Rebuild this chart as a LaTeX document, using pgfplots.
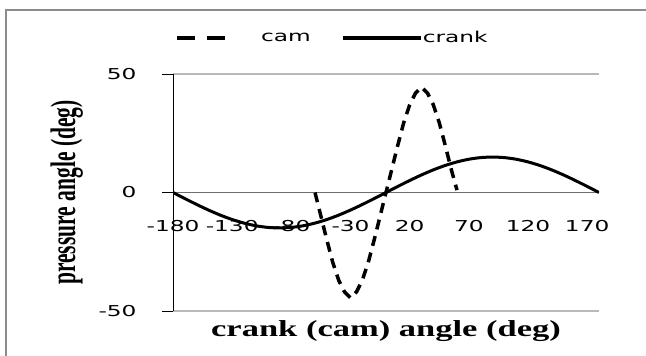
\documentclass[border=0pt]{standalone}
\usepackage{pgfplots}
\pgfplotsset{compat=1.18}
\usepackage{fontspec}
\setmainfont{DejaVu Sans}
\newfontfamily\tickfont[FakeStretch=1.55]{DejaVu Sans}
\newfontfamily\labfont[FakeStretch=1.5]{Liberation Serif}
\newfontfamily\ylabfont{Liberation Serif}
\definecolor{framegray}{RGB}{140,140,140}
\definecolor{gridgray}{RGB}{185,185,185}
\definecolor{zerogray}{RGB}{110,110,110}

\pgfplotsset{
    camleg/.style={legend image code/.code={%
        \fill[black, draw=none] (0bp,-1.8bp) rectangle (18bp,1.8bp);
        \fill[black, draw=none] (30bp,-1.8bp) rectangle (48bp,1.8bp);
        \path[draw=none] (48bp,0bp) -- (82bp,0bp);}},
    crankleg/.style={legend image code/.code={%
        \fill[black, draw=none] (0bp,-1.6bp) rectangle (78bp,1.6bp);}},
}

\begin{document}
\begin{tikzpicture}
\useasboundingbox (0,0) rectangle (646bp,356bp);
% chart frame (left and top edges only visible)
\draw[framegray, line width=2bp] (6bp,0bp) -- (6bp,346bp) -- (646bp,346bp);

\begin{axis}[
    at={(173bp,45bp)}, anchor=south west,
    scale only axis,
    width=426bp, height=237bp,
    axis x line=middle,
    axis y line=left,
    axis line style={-},
    x axis line style={zerogray, line width=1bp},
    y axis line style={black, line width=1bp},
    hide obscured x ticks=false,
    xmin=-180, xmax=180,
    ymin=-50, ymax=50,
    xtick={-180,-130,-80,-30,20,70,120,170},
    ytick={-50,0,50},
    xtick style={draw=none},
    ytick style={black, line width=0.8bp},
    tick align=outside,
    major tick length=11bp,
    ymajorgrids,
    grid style={gridgray, line width=1.2bp},
    /pgf/number format/assume math mode=true,
    tick label style={font=\tickfont\fontsize{15bp}{18bp}\selectfont},
    xticklabel style={anchor=center, yshift=-23bp},
    yticklabel style={anchor=east, xshift=-22bp},
    every axis x label/.style={at={(axis description cs:0.5,-0.1097)}, anchor=base,
        font=\labfont\bfseries\fontsize{23bp}{26bp}\selectfont},
    every axis y label/.style={at={(axis description cs:-0.230,0.5)}, anchor=base, rotate=90,
        font=\ylabfont\bfseries\fontsize{21.5bp}{24bp}\selectfont},
    xlabel={crank (cam) angle (deg)},
    ylabel={\scalebox{1}[1.65]{pressure angle (deg)}},
    legend columns=2,
    legend cell align=left,
    legend style={draw=none, fill=none, at={(axis description cs:0.0094,1.152)}, anchor=west,
        inner sep=0pt, font=\tickfont\fontsize{15bp}{18bp}\selectfont,
        /tikz/every even column/.append style={column sep=30bp}},
]
% gray line along the bottom (-50) gridline
\draw[gray, line width=1bp] (axis cs:-180,-50) -- (axis cs:180,-50);

% cam pressure angle
\addplot[black, line width=3.5bp, dash pattern=on 10bp off 7bp, camleg]
coordinates {
    (-60,0) (-55,-10) (-50,-20) (-45,-29.5) (-40,-37) (-35,-42) (-30,-44.5)
    (-25,-42) (-20,-37) (-15,-29.5) (-10,-20) (-5,-10) (0,0)
    (5,10) (10,20) (15,29.5) (20,37) (25,42) (30,44.5)
    (35,42) (40,37) (45,29.5) (50,20) (55,10) (60,1)
};
\addlegendentry{cam}

% crank pressure angle
\addplot[black, line width=3bp, smooth, crankleg]
coordinates {
    (-180,0) (-170,-2.57) (-160,-5.06) (-150,-7.41) (-140,-9.55) (-130,-11.40)
    (-120,-12.91) (-110,-14.03) (-100,-14.72) (-90,-14.95) (-80,-14.72) (-70,-14.03)
    (-60,-12.91) (-50,-11.40) (-40,-9.55) (-30,-7.41) (-20,-5.06) (-10,-2.57)
    (0,0) (10,2.57) (20,5.06) (30,7.41) (40,9.55) (50,11.40) (60,12.91) (70,14.03)
    (80,14.72) (90,14.95) (100,14.72) (110,14.03) (120,12.91) (130,11.40) (140,9.55)
    (150,7.41) (160,5.06) (170,2.57) (180,0)
};
\addlegendentry{crank}
\end{axis}
\end{tikzpicture}
\end{document}
